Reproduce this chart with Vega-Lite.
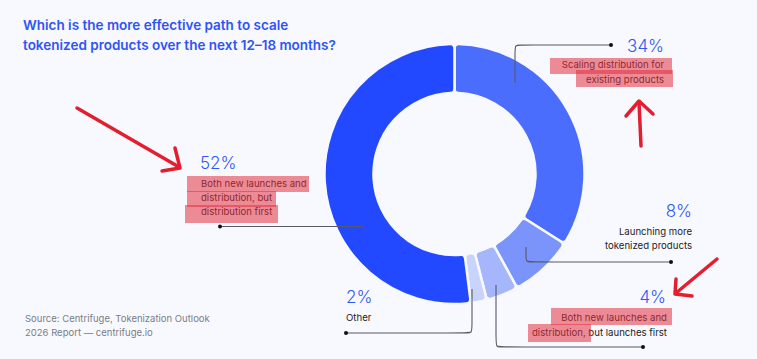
{
  "$schema": "https://vega.github.io/schema/vega-lite/v6.json",
  "width": 757,
  "height": 359,
  "autosize": {"type": "fit", "contains": "padding"},
  "padding": 0,
  "background": "#f8f9fe",
  "config": {"view": {"stroke": null}, "font": "Inter"},
  "datasets": {
    "slices": [
      {"answer": "Scaling distribution for existing products", "pct": 34, "rank": 1},
      {"answer": "Launching more tokenized products", "pct": 8, "rank": 2},
      {"answer": "Both new launches and distribution, but launches first", "pct": 4, "rank": 3},
      {"answer": "Other", "pct": 2, "rank": 4},
      {"answer": "Both new launches and distribution, but distribution first", "pct": 52, "rank": 5}
    ],
    "leaders": [
      {"leader": "34", "i": 1, "x": 515, "y": 83},
      {"leader": "34", "i": 2, "x": 515, "y": 51},
      {"leader": "34", "i": 3, "x": 515, "y": 45},
      {"leader": "34", "i": 4, "x": 521, "y": 45},
      {"leader": "34", "i": 5, "x": 611, "y": 45},
      {"leader": "8", "i": 1, "x": 526, "y": 247},
      {"leader": "8", "i": 2, "x": 526, "y": 256},
      {"leader": "8", "i": 3, "x": 526, "y": 262},
      {"leader": "8", "i": 4, "x": 532, "y": 262},
      {"leader": "8", "i": 5, "x": 671, "y": 262},
      {"leader": "4", "i": 1, "x": 496, "y": 285},
      {"leader": "4", "i": 2, "x": 496, "y": 341},
      {"leader": "4", "i": 3, "x": 496, "y": 347},
      {"leader": "4", "i": 4, "x": 502, "y": 347},
      {"leader": "4", "i": 5, "x": 643, "y": 347},
      {"leader": "2", "i": 1, "x": 472, "y": 289},
      {"leader": "2", "i": 2, "x": 472, "y": 327},
      {"leader": "2", "i": 3, "x": 472, "y": 333},
      {"leader": "2", "i": 4, "x": 466, "y": 333},
      {"leader": "2", "i": 5, "x": 346, "y": 333},
      {"leader": "52", "i": 1, "x": 363, "y": 226.5},
      {"leader": "52", "i": 2, "x": 220, "y": 226.5}
    ],
    "dots": [
      {"x": 611, "y": 45},
      {"x": 671, "y": 262},
      {"x": 643, "y": 347},
      {"x": 346, "y": 333},
      {"x": 220, "y": 226.5}
    ],
    "arrows": [
      {"part": "a1", "i": 1, "x": 77, "y": 108},
      {"part": "a1", "i": 2, "x": 179, "y": 167},
      {"part": "h1", "i": 1, "x": 175, "y": 148},
      {"part": "h1", "i": 2, "x": 180, "y": 168},
      {"part": "h1", "i": 3, "x": 162, "y": 171},
      {"part": "a2", "i": 1, "x": 641, "y": 146},
      {"part": "a2", "i": 2, "x": 639, "y": 102},
      {"part": "h2", "i": 1, "x": 626, "y": 116},
      {"part": "h2", "i": 2, "x": 639, "y": 101},
      {"part": "h2", "i": 3, "x": 653, "y": 114},
      {"part": "a3", "i": 1, "x": 717, "y": 259},
      {"part": "a3", "i": 2, "x": 676, "y": 293},
      {"part": "h3", "i": 1, "x": 676, "y": 279},
      {"part": "h3", "i": 2, "x": 675, "y": 294},
      {"part": "h3", "i": 3, "x": 692, "y": 296}
    ],
    "highlights": [
      {"x": 550, "x2": 672, "y": 58, "y2": 74},
      {"x": 576, "x2": 673, "y": 70, "y2": 87},
      {"x": 187, "x2": 309, "y": 176, "y2": 192},
      {"x": 187, "x2": 276, "y": 191, "y2": 207},
      {"x": 185, "x2": 278, "y": 205, "y2": 223},
      {"x": 551, "x2": 672, "y": 308, "y2": 325},
      {"x": 528, "x2": 591, "y": 324, "y2": 342}
    ],
    "pctRight": [
      {"t": "34%", "x": 664, "y": 52},
      {"t": "8%", "x": 692, "y": 217},
      {"t": "4%", "x": 666, "y": 303}
    ],
    "pctLeft": [
      {"t": "52%", "x": 200, "y": 169},
      {"t": "2%", "x": 346, "y": 303}
    ],
    "labelRight": [
      {"t": "Scaling distribution for", "x": 664, "y": 68},
      {"t": "existing products", "x": 664, "y": 83},
      {"t": "Launching more", "x": 692, "y": 235},
      {"t": "tokenized products", "x": 692, "y": 249},
      {"t": "Both new launches and", "x": 667, "y": 321},
      {"t": "distribution, but launches first", "x": 667, "y": 336}
    ],
    "labelLeft": [
      {"t": "Both new launches and", "x": 201, "y": 187},
      {"t": "distribution, but", "x": 201, "y": 201},
      {"t": "distribution first", "x": 201, "y": 215},
      {"t": "Other", "x": 346, "y": 321}
    ],
    "title": [
      {"t": "Which is the more effective path to scale", "x": 23, "y": 29.5},
      {"t": "tokenized products over the next 12–18 months?", "x": 23, "y": 49.5}
    ],
    "source": [
      {"t": "Source: Centrifuge, Tokenization Outlook", "x": 25, "y": 322},
      {"t": "2026 Report — centrifuge.io", "x": 25, "y": 336}
    ]
  },
  "layer": [
    {
      "data": {"name": "slices"},
      "mark": {
        "type": "arc",
        "x": {"expr": "scale('x', 454.5)"},
        "y": {"expr": "scale('y', 174)"},
        "outerRadius": 130,
        "innerRadius": 81,
        "cornerRadius": 4,
        "stroke": "#f8f9fe",
        "strokeWidth": 2.5
      },
      "encoding": {
        "theta": {"field": "pct", "type": "quantitative", "stack": true},
        "order": {"field": "rank", "type": "quantitative"},
        "color": {
          "field": "answer",
          "type": "nominal",
          "scale": {
            "domain": [
              "Scaling distribution for existing products",
              "Launching more tokenized products",
              "Both new launches and distribution, but launches first",
              "Other",
              "Both new launches and distribution, but distribution first"
            ],
            "range": ["#4a6dfe", "#7a94fc", "#a5b6fc", "#c9d4fd", "#2249ff"]
          },
          "legend": null
        }
      }
    },
    {
      "data": {"name": "leaders"},
      "mark": {"type": "line", "interpolate": "basis", "color": "#555a66", "strokeWidth": 1.1},
      "encoding": {
        "x": {"field": "x", "type": "quantitative", "scale": {"domain": [0, 757], "nice": false, "zero": false}, "axis": null},
        "y": {"field": "y", "type": "quantitative", "scale": {"domain": [0, 359], "nice": false, "zero": false, "reverse": true}, "axis": null},
        "detail": {"field": "leader", "type": "nominal"},
        "order": {"field": "i", "type": "quantitative"}
      }
    },
    {
      "data": {"name": "dots"},
      "mark": {"type": "point", "filled": true, "size": 16, "color": "#111111", "opacity": 1},
      "encoding": {
        "x": {"field": "x", "type": "quantitative", "axis": null},
        "y": {"field": "y", "type": "quantitative", "axis": null}
      }
    },
    {
      "data": {"name": "arrows"},
      "mark": {"type": "line", "color": "#e41e2f", "strokeWidth": 3.5, "strokeCap": "round", "strokeJoin": "round"},
      "encoding": {
        "x": {"field": "x", "type": "quantitative", "axis": null},
        "y": {"field": "y", "type": "quantitative", "axis": null},
        "detail": {"field": "part", "type": "nominal"},
        "order": {"field": "i", "type": "quantitative"}
      }
    },
    {
      "data": {"name": "pctRight"},
      "mark": {"type": "text", "align": "right", "baseline": "alphabetic", "fontSize": 17, "fontWeight": 300, "color": "#3056f6"},
      "encoding": {
        "x": {"field": "x", "type": "quantitative", "axis": null},
        "y": {"field": "y", "type": "quantitative", "axis": null},
        "text": {"field": "t", "type": "nominal"}
      }
    },
    {
      "data": {"name": "pctLeft"},
      "mark": {"type": "text", "align": "left", "baseline": "alphabetic", "fontSize": 17, "fontWeight": 300, "color": "#3056f6"},
      "encoding": {
        "x": {"field": "x", "type": "quantitative", "axis": null},
        "y": {"field": "y", "type": "quantitative", "axis": null},
        "text": {"field": "t", "type": "nominal"}
      }
    },
    {
      "data": {"name": "labelRight"},
      "mark": {"type": "text", "align": "right", "baseline": "alphabetic", "fontSize": 9.6, "color": "#222222"},
      "encoding": {
        "x": {"field": "x", "type": "quantitative", "axis": null},
        "y": {"field": "y", "type": "quantitative", "axis": null},
        "text": {"field": "t", "type": "nominal"}
      }
    },
    {
      "data": {"name": "labelLeft"},
      "mark": {"type": "text", "align": "left", "baseline": "alphabetic", "fontSize": 9.6, "color": "#222222"},
      "encoding": {
        "x": {"field": "x", "type": "quantitative", "axis": null},
        "y": {"field": "y", "type": "quantitative", "axis": null},
        "text": {"field": "t", "type": "nominal"}
      }
    },
    {
      "data": {"name": "highlights"},
      "mark": {"type": "rect", "color": "#e2303f", "opacity": 0.55},
      "encoding": {
        "x": {"field": "x", "type": "quantitative", "axis": null},
        "y": {"field": "y", "type": "quantitative", "axis": null},
        "x2": {"field": "x2"},
        "y2": {"field": "y2"}
      }
    },
    {
      "data": {"name": "title"},
      "mark": {"type": "text", "align": "left", "baseline": "alphabetic", "fontSize": 13.5, "fontWeight": 600, "color": "#2f54f5"},
      "encoding": {
        "x": {"field": "x", "type": "quantitative", "axis": null},
        "y": {"field": "y", "type": "quantitative", "axis": null},
        "text": {"field": "t", "type": "nominal"}
      }
    },
    {
      "data": {"name": "source"},
      "mark": {"type": "text", "align": "left", "baseline": "alphabetic", "fontSize": 9.5, "color": "#7a7d85"},
      "encoding": {
        "x": {"field": "x", "type": "quantitative", "axis": null},
        "y": {"field": "y", "type": "quantitative", "axis": null},
        "text": {"field": "t", "type": "nominal"}
      }
    }
  ]
}
